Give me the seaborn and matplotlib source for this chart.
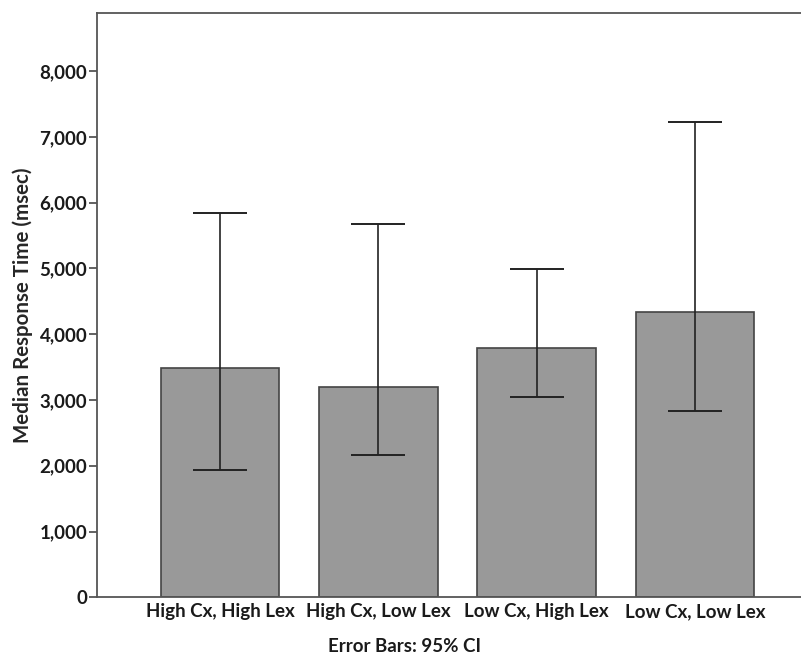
import matplotlib
matplotlib.use("Agg")
import matplotlib.pyplot as plt
import seaborn as sns
import numpy as np
import pandas as pd
from matplotlib.ticker import FuncFormatter

categories = ["High Cx, High Lex", "High Cx, Low Lex", "Low Cx, High Lex", "Low Cx, Low Lex"]
medians = [3490, 3190, 3790, 4340]
ci_low = [1935, 2170, 3040, 2830]
ci_high = [5845, 5670, 4990, 7220]
yticks = [0, 1000, 2000, 3000, 4000, 5000, 6000, 7000, 8000]

sns.set_theme(style="white")
plt.rcParams['font.family'] = ['Lato', 'DejaVu Sans']

fig = plt.figure(figsize=(8.01, 6.54), dpi=100)
ax = fig.add_axes([97/801, 1 - 597.3/654, 1 - 97/801, (597.3 - 12.5)/654])

df = pd.DataFrame({"cat": categories, "val": medians})
sns.barplot(data=df, x="cat", y="val", color="#999999", saturation=1, width=0.75,
            edgecolor="#444444", linewidth=1.2, errorbar=None, ax=ax)

x = np.arange(len(categories))
med = np.array(medians)
yerr = np.vstack([med - np.array(ci_low), np.array(ci_high) - med])
ax.errorbar(x, med, yerr=yerr, fmt="none", ecolor="#222222", elinewidth=1.2,
            capsize=19.5, capthick=1.4)

ax.set_xlim(-0.776, 3.669)
ax.set_ylim(0, 8890)
ax.set_yticks(yticks)
ax.yaxis.set_major_formatter(FuncFormatter(lambda v, p: f"{int(v):,}"))
ax.set_xlabel("")
ax.set_ylabel("Median Response Time (msec)", fontsize=14.8, fontweight="bold", labelpad=5)

for s in ["left", "bottom", "top"]:
    ax.spines[s].set_color("#555555")
    ax.spines[s].set_linewidth(1.3)
ax.spines["right"].set_visible(False)

ax.tick_params(axis="y", which="major", left=True, length=6, width=1.3, color="#555555",
               labelsize=13.5, pad=1, direction="out")
ax.tick_params(axis="x", bottom=False, labelsize=13.5, pad=-2)
for lab in ax.get_yticklabels() + ax.get_xticklabels():
    lab.set_fontweight("bold")
    lab.set_color("#1a1a1a")

fig.text(404/801, 1 - 646/654, "Error Bars: 95% CI", ha="center", va="center",
         fontsize=13.5, fontweight="bold", color="#1a1a1a")

fig.savefig("out.png", dpi=100, facecolor="white")
